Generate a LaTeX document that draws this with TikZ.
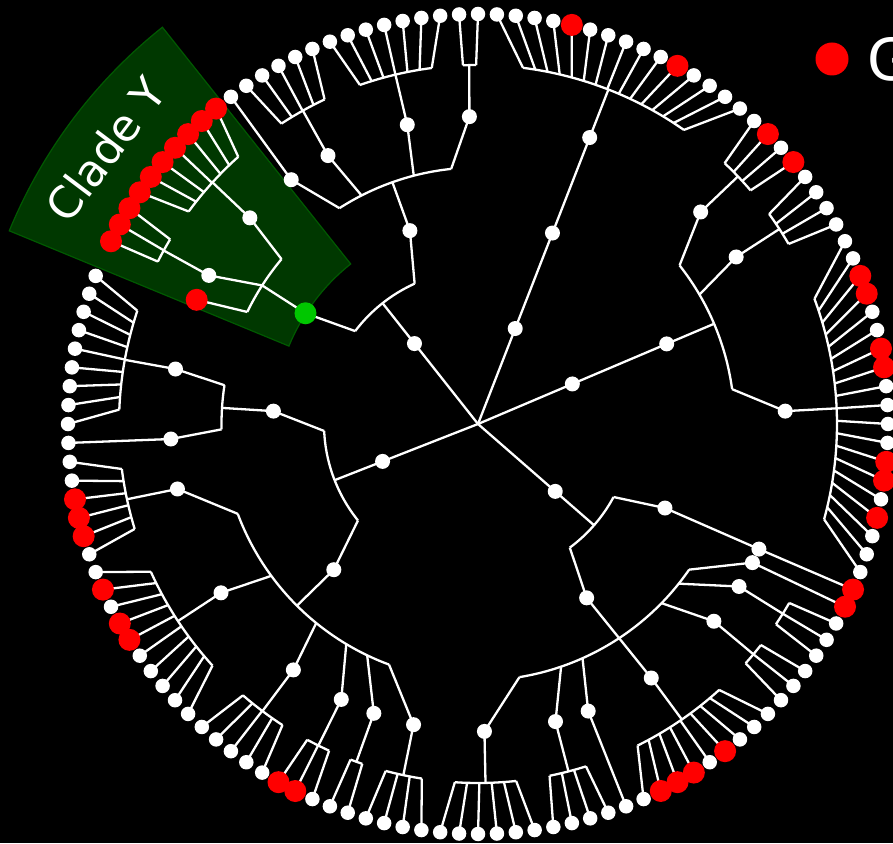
\documentclass[tikz,border=0pt]{standalone}
\usepackage{fontspec}
\setmainfont{DejaVu Sans}
\begin{document}
\begin{tikzpicture}[x=1pt,y=1pt,
  edge/.style={draw=white,line width=2.3pt,line join=round},
  leafw/.style={circle,fill=white,minimum size=14.5pt,inner sep=0pt},
  leafr/.style={circle,fill=red,minimum size=22pt,inner sep=0pt},
  dotw/.style={circle,fill=white,minimum size=15pt,inner sep=0pt},
  dotg/.style={circle,fill=green!78!black,minimum size=22pt,inner sep=0pt},
  sector/.style={fill=green!22!black,draw=green!35!black,line width=1.2pt}]
\def\rB{102.5}\def\rC{154}\def\rD{205}\def\rE{256.5}\def\rF{307.5}\def\rG{359}\def\rH{410}
\newcommand\fan[5]{%
  \draw[edge] (#3:#5) arc[start angle=#3, end angle=#4, radius=#5];
  \foreach \k in {#1,...,#2}{%
    \pgfmathsetmacro\ang{#3+(\k-#1)*(#4-#3)/(#2-#1)}%
    \coordinate (bp\k) at (\ang:#5);
    \draw[edge] (bp\k) -- (l\k);
  }}
\newcommand\marc[3]{\draw[edge] (#1:#3) arc[start angle=#1, end angle=#2, radius=#3];}
\fill[black] (-478,-419) rectangle (415,424);
\useasboundingbox (-478,-419) rectangle (415,424);
% clade Y sector
\path[sector] (128.5:204.5) arc[start angle=128.5,end angle=157.6,radius=204.5]
  -- (157.6:507) arc[start angle=157.6,end angle=128.5,radius=507] -- cycle;
\node[text=white,font=\fontsize{44}{52}\selectfont,rotate=53] (cladey) at (143.6:463) {Clade Y};
% leaves
\coordinate (root) at (0,0);
\foreach \k in {0,...,135}{\coordinate (l\k) at ({90+\k*2.6471}:\rH);}
\coordinate (l25) at ({90+25*2.6471}:\rF);
% ---------- clade A
\foreach \n/\r in {a1/\rB,a2/\rD,a3/\rF,a4/\rG}{\coordinate (\n) at (428.7:\r);}
\draw[edge] (root)--(a1)--(a2)--(a3)--(a4);
\fan{121}{135}{415.0}{442.8}{\rG}
% ---------- clade B
\coordinate (b1) at (23:\rB); \coordinate (b2) at (23:\rD); \coordinate (b3) at (23:\rE);
\draw[edge] (root)--(b1)--(b2)--(b3);
\marc{7.8}{38.2}{\rE}
\coordinate (bA) at (38.2:\rE); \coordinate (bAd) at (43.6:\rF); \coordinate (bAb) at (43.6:\rG);
\draw[edge] (bA)--(bAd)--(bAb);
\fan{117}{120}{400.6}{406.6}{\rG}
\coordinate (bB) at (30.3:\rE); \coordinate (bBd) at (32.9:\rF); \coordinate (bBb) at (32.9:\rG);
\draw[edge] (bB)--(bBd)--(bBb);
\fan{113}{116}{390.1}{395.8}{\rG}
\coordinate (cA) at (7.8:\rE); \coordinate (cAd) at (2.4:\rF); \coordinate (cAb) at (2.5:\rG);
\draw[edge] (cA)--(cAd)--(cAb);
\fan{94}{112}{344.6}{380.4}{\rG}
% ---------- clade D / E
\coordinate (d1) at (318.9:\rB); \coordinate (d2) at (318.9:\rC);
\draw[edge] (root)--(d1)--(d2);
\marc{306.6}{331.7}{\rC}
\coordinate (dA) at (331.7:\rC); \coordinate (dAd) at (335.8:\rD); \coordinate (dAe) at (336:\rF);
\draw[edge] (dA)--(dAd)--(dAe)--(l93);
\coordinate (dB) at (306.6:\rC); \coordinate (dBd) at (302:\rD); \coordinate (dBe) at (304.3:\rF); \coordinate (dBb) at (304.6:\rG);
\draw[edge] (dB)--(dBd)--(dBe)--(dBb);
\fan{77}{85}{296.4}{312.2}{\rG}
\marc{279.3}{325.4}{\rE}
\coordinate (eA) at (325.4:\rE); \coordinate (eAd) at (333.2:\rF);
\draw[edge] (eA)--(eAd)--(l92);
\coordinate (eB) at (321.5:\rE); \coordinate (eBd) at (328.1:\rF); \coordinate (eBb) at (328.1:\rG);
\draw[edge] (eB)--(eBd)--(eBb);
\fan{89}{91}{326.1}{330.1}{\rG}
\coordinate (eC) at (315.7:\rE); \coordinate (eCd) at (320.1:\rF); \coordinate (eCb) at (320.1:\rG);
\draw[edge] (eC)--(eCd)--(eCb);
\fan{86}{88}{318.2}{322.0}{\rG}
\coordinate (eE) at (294.05:\rE); \coordinate (eEd) at (291:\rF);
\draw[edge] (eE)--(eEd)--(l76);
\coordinate (eF) at (288.9:\rE); \coordinate (eFd) at (284.6:\rF); \coordinate (eFb) at (284.6:\rG);
\draw[edge] (eF)--(eFd)--(eFb);
\fan{72}{75}{281.5}{287.5}{\rG}
\coordinate (eG) at (279.3:\rE); \coordinate (eGd) at (271.2:\rF); \coordinate (eGb) at (271.2:\rG);
\draw[edge] (eG)--(eGd)--(eGb);
\fan{66}{71}{266.3}{276.1}{\rG}
% ---------- clade F / G / H
\coordinate (f1) at (201.4:\rB); \coordinate (f2) at (201.4:\rC);
\draw[edge] (root)--(f1)--(f2);
\marc{182.6}{218.8}{\rC}
\coordinate (fA) at (182.6:\rC); \coordinate (fAd) at (176.4:\rD); \coordinate (fAe) at (176.4:\rE);
\draw[edge] (fA)--(fAd)--(fAe);
\marc{171.3}{181.2}{\rE}
\coordinate (gA) at (171.3:\rE); \coordinate (gAd) at (169.7:\rF); \coordinate (gAb) at (169.7:\rG);
\draw[edge] (gA)--(gAd)--(gAb);
\fan{26}{34}{161.6}{177.7}{\rG}
\coordinate (gB) at (181.2:\rE); \coordinate (gBd) at (182.8:\rF);
\draw[edge] (gB)--(gBd)--(l35);
\coordinate (fB) at (218.8:\rC); \coordinate (fBd) at (225.3:\rD); \coordinate (fBe) at (225.1:\rE);
\draw[edge] (fB)--(fBd)--(fBe);
\marc{200.5}{249.7}{\rE}
\coordinate (hA) at (200.5:\rE); \coordinate (hAd) at (192.2:\rF); \coordinate (hAb) at (192.1:\rG);
\draw[edge] (hA)--(hAd)--(hAb);
\fan{36}{41}{187.2}{197.0}{\rG}
\coordinate (hB) at (216.3:\rE); \coordinate (hBd) at (213.3:\rF); \coordinate (hBb) at (213.3:\rG);
\draw[edge] (hB)--(hBd)--(hBb);
\fan{42}{51}{204.3}{222.3}{\rG}
\coordinate (hC) at (230.9:\rE); \coordinate (hCd) at (233.1:\rF); \coordinate (hCb) at (233.1:\rG);
\draw[edge] (hC)--(hCd)--(hCb);
\fan{52}{56}{229.1}{237.0}{\rG}
\coordinate (hD) at (239.1:\rE); \coordinate (hDd) at (243.6:\rF); \coordinate (hDb) at (243.6:\rG);
\draw[edge] (hD)--(hDd)--(hDb);
\fan{57}{59}{241.6}{245.5}{\rG}
\coordinate (hE) at (244.4:\rE); \coordinate (hEd) at (250.2:\rF); \coordinate (hEb) at (250.2:\rG);
\draw[edge] (hE)--(hEd)--(hEb);
\fan{60}{61}{249.2}{251.2}{\rG}
\coordinate (hF) at (249.7:\rE); \coordinate (hFd) at (257.9:\rF); \coordinate (hFb) at (258:\rG);
\draw[edge] (hF)--(hFd)--(hFb);
\fan{62}{65}{255.1}{261.0}{\rG}
% ---------- clade I / J / Y
\coordinate (i1) at (128.3:\rB); \coordinate (i2) at (128.3:\rC);
\draw[edge] (root)--(i1)--(i2);
\marc{114.3}{142.9}{\rC}
\coordinate (iA) at (142.9:\rC); \coordinate (yR) at (147.3:\rD); \coordinate (yRe) at (147.3:\rE);
\draw[edge] (iA)--(yR)--(yRe);
\marc{140}{154.1}{\rE}
\coordinate (yA) at (140:\rE); \coordinate (yAd) at (137.9:\rF); \coordinate (yAb) at (137.7:\rG);
\draw[edge] (yA)--(yAd)--(yAb);
\fan{15}{21}{131.9}{143.7}{\rG}
\coordinate (yBd) at (151.1:\rF); \coordinate (yBb) at (151.1:\rG);
\draw[edge] (yRe)--(yBd)--(yBb);
\fan{22}{24}{149.05}{153.1}{\rG}
\coordinate (yC) at (154.1:\rE);
\draw[edge] (yC)--(l25);
\coordinate (iB) at (114.3:\rC); \coordinate (iBd) at (109.4:\rD); \coordinate (iBe) at (109.5:\rE);
\draw[edge] (iB)--(iBd)--(iBe);
\marc{96}{122.7}{\rE}
\coordinate (jA) at (122.7:\rE); \coordinate (jAd) at (127.4:\rF);
\draw[edge] (jA)--(jAd)--(l14);
\coordinate (jB) at (117:\rE); \coordinate (jBd) at (119.2:\rF); \coordinate (jBb) at (119.2:\rG);
\draw[edge] (jB)--(jBd)--(jBb);
\fan{9}{13}{115.3}{123.2}{\rG}
\coordinate (jC) at (104.5:\rE); \coordinate (jCd) at (103.3:\rF); \coordinate (jCb) at (103.3:\rG);
\draw[edge] (jC)--(jCd)--(jCb);
\fan{2}{8}{97.4}{109.2}{\rG}
\coordinate (jD) at (96:\rE); \coordinate (jDd) at (91.6:\rF); \coordinate (jDb) at (91.4:\rG);
\draw[edge] (jD)--(jDd)--(jDb);
\fan{0}{1}{90.3}{92.4}{\rG}
% ---------- internal dots
\foreach \n in {a1,a2,a3,b1,b2,bAd,bBd,cAd,d1,dAd,dAe,dBd,dBe,eAd,eBd,eCd,eEd,eFd,eGd,
  f1,fAd,gAd,gBd,fBd,hAd,hBd,hCd,hDd,hEd,hFd,i1,iBd,jAd,jBd,jCd,jDd,yAd,yBd}{\node[dotw] (n\n) at (\n) {};}
\node[dotg] (ngreen) at (yR) {};
% ---------- leaves
\foreach \k in {0,...,135}{\node[leafw] (n\k) at (l\k) {};}
\foreach \k in {15,...,25,38,39,40,43,45,46,57,58,78,79,80,82,92,93,97,99,100,105,106,109,110,117,119,125,131}{\node[leafr] (r\k) at (l\k) {};}
% ---------- legend
\node[circle,fill=red,minimum size=33pt,inner sep=0pt] (legdot) at (354,365) {};
\node[anchor=west,text=white,font=\fontsize{58}{64}\selectfont,inner sep=0pt] (legtext) at (389,365) {G};
\end{tikzpicture}
\end{document}
